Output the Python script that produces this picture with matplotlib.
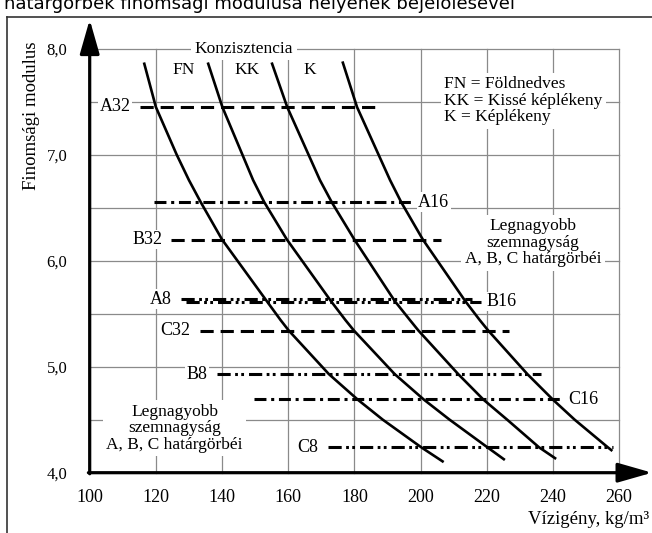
import matplotlib
matplotlib.use("Agg")
import matplotlib.pyplot as plt
from matplotlib.lines import Line2D

plt.rcParams['font.family'] = ['Liberation Serif', 'DejaVu Serif']
plt.rcParams['lines.scale_dashes'] = False

# Data
title = "határgörbék finomsági modulusa helyének bejelölésével"
x_ticks = [100, 120, 140, 160, 180, 200, 220, 240, 260]
y_ticks = [4.0, 5.0, 6.0, 7.0, 8.0]
y_tick_labels = ["4,0", "5,0", "6,0", "7,0", "8,0"]

# consistency boundary curves (Vízigény, Finomsági modulus)
curve1_x = [116.4, 120.0, 126.3, 130.0, 133.6, 140.0, 153.5, 157.7, 160.2, 172.3, 181.0, 188.6, 200.2, 207.0]
curve1_y = [7.87, 7.45, 7.00, 6.76, 6.55, 6.20, 5.62, 5.44, 5.34, 4.93, 4.69, 4.50, 4.24, 4.10]
curve2_x = [135.7, 140.1, 149.4, 152.8, 159.6, 172.9, 177.3, 179.9, 192.2, 201.0, 208.8, 220.2, 225.5]
curve2_y = [7.87, 7.45, 6.76, 6.55, 6.20, 5.62, 5.44, 5.34, 4.93, 4.69, 4.50, 4.24, 4.12]
curve3_x = [155.0, 159.7, 169.6, 173.2, 180.0, 192.2, 196.8, 199.4, 211.4, 219.0, 226.2, 235.8, 241.0]
curve3_y = [7.87, 7.45, 6.76, 6.55, 6.20, 5.62, 5.44, 5.34, 4.93, 4.69, 4.50, 4.24, 4.13]
curve4_x = [176.4, 180.8, 190.8, 194.2, 200.7, 213.5, 217.9, 220.5, 232.3, 240.0, 246.6, 256.6, 258.0]
curve4_y = [7.88, 7.45, 6.76, 6.55, 6.20, 5.62, 5.44, 5.34, 4.93, 4.69, 4.50, 4.24, 4.205]
curves = [(curve1_x, curve1_y), (curve2_x, curve2_y), (curve3_x, curve3_y), (curve4_x, curve4_y)]

# maximum grain size limit lines
limit_names = ["A32", "A16", "B32", "A8", "B16", "C32", "B8", "C16", "C8"]
limit_y = [7.45, 6.55, 6.20, 5.635, 5.615, 5.34, 4.93, 4.695, 4.24]
limit_x0 = [115.2, 119.4, 124.7, 127.7, 129.0, 133.3, 138.5, 149.6, 172.0]
limit_x1 = [187.6, 197.5, 206.2, 215.5, 218.3, 226.8, 236.3, 242.9, 258.2]
limit_kind = ["dash", "dashdot", "dash", "dashdotdot", "dashdotdot", "dash", "dashdotdot", "dashdot", "dashdotdot"]
label_side = ["left", "right", "left", "left", "right", "left", "left", "right", "left"]

consistency_labels = ["FN", "KK", "K"]
consistency_label_x = [128.5, 147.6, 166.5]

dash_patterns = {
    "dash": (9.5, 5.0),
    "dashdot": (8.6, 3.4, 2.2, 3.4),
    "dashdotdot": (9.5, 3.2, 2.0, 2.4, 2.0, 3.6),
}

fig = plt.figure(figsize=(6.52, 5.33), dpi=100)
ax = fig.add_axes([89.7 / 652, (533 - 472.7) / 533, (619 - 89.7) / 652, (472.7 - 48.7) / 533])
ax.set_xlim(100, 260)
ax.set_ylim(4.0, 8.0)
for s in ax.spines.values():
    s.set_visible(False)

# grid
grid_col = "#8a8a8a"
for gx in x_ticks[1:]:
    ax.plot([gx, gx], [4.0, 8.0], color=grid_col, lw=0.9, zorder=1, clip_on=False)
for gy in [4.5, 5.0, 5.5, 6.0, 6.5, 7.0, 7.5, 8.0]:
    ax.plot([100, 260], [gy, gy], color=grid_col, lw=0.9, zorder=1, clip_on=False)

# axes with arrows
arrow_style = "-|>,head_length=1.05,head_width=0.3"
ax.annotate("", xy=(100, 8.275), xytext=(100, 3.99),
            arrowprops=dict(arrowstyle=arrow_style, lw=2.3, color="k", mutation_scale=20, shrinkA=0, shrinkB=0),
            annotation_clip=False, zorder=6)
ax.annotate("", xy=(270.0, 4.0), xytext=(99.6, 4.0),
            arrowprops=dict(arrowstyle=arrow_style, lw=2.3, color="k", mutation_scale=20, shrinkA=0, shrinkB=0),
            annotation_clip=False, zorder=6)

# curves
for cx, cy in curves:
    ax.plot(cx, cy, color="k", lw=1.9, zorder=5, solid_capstyle="butt", solid_joinstyle="round")

# limit lines and labels
box = dict(facecolor="white", edgecolor="none", pad=1.0)
for name, y, x0, x1, kind, side in zip(limit_names, limit_y, limit_x0, limit_x1, limit_kind, label_side):
    ax.plot([x0, x1], [y, y], color="k", lw=2.2, dashes=dash_patterns[kind],
            zorder=4, dash_capstyle="butt", clip_on=False)
    if side == "left":
        ax.text(x0 - 2.8, y, name, ha="right", va="center", fontsize=13, zorder=3, bbox=box)
    else:
        ax.text(x1 + 1.8, y, name, ha="left", va="center", fontsize=13, zorder=3, bbox=box)

# texts
ax.text(146.6, 8.0, "Konzisztencia", ha="center", va="center", fontsize=12.5, zorder=3,
        bbox=dict(facecolor="white", edgecolor="none", pad=2.5))
for lab, lx in zip(consistency_labels, consistency_label_x):
    ax.text(lx, 7.80, lab, ha="center", va="center", fontsize=12.5, zorder=3)

ax.text(207.2, 7.51, "FN = Földnedves\nKK = Kissé képlékeny\nK = Képlékeny",
        ha="left", va="center", fontsize=12.5, linespacing=1.05, zorder=3,
        bbox=dict(facecolor="white", edgecolor="none", pad=2.5))
ax.text(234.0, 6.17, "Legnagyobb\nszemnagyság\nA, B, C határgörbéi",
        ha="center", va="center", fontsize=12.5, linespacing=1.05, zorder=3,
        bbox=dict(facecolor="white", edgecolor="none", pad=2.5))
ax.text(125.7, 4.42, "Legnagyobb\nszemnagyság\nA, B, C határgörbéi",
        ha="center", va="center", fontsize=12.5, linespacing=1.05, zorder=3,
        bbox=dict(facecolor="white", edgecolor="none", pad=2.5))

# ticks
ax.set_xticks(x_ticks)
ax.set_xticklabels([str(v) for v in x_ticks], fontsize=13)
ax.set_yticks(y_ticks)
ax.set_yticklabels(y_tick_labels, fontsize=12)
ax.tick_params(axis="x", length=0, pad=12)
ax.tick_params(axis="y", length=0, pad=16)

fig.text(32 / 652, 1 - 116 / 533, "Finomsági modulus", rotation=90, ha="center", va="center", fontsize=13.5)
fig.text(649 / 652, 1 - 520 / 533, "Vízigény, kg/m³", ha="right", va="center", fontsize=13.5)

# frame and cropped title
fig.add_artist(Line2D([7 / 652, 7 / 652], [0, 1 - 17 / 533], color="#333333", lw=1.2))
fig.add_artist(Line2D([7 / 652, 1], [1 - 17 / 533, 1 - 17 / 533], color="#333333", lw=1.2))
fig.text(4 / 652, 1 - 9 / 533, title, ha="left", va="baseline", fontsize=13, family="DejaVu Sans")

fig.savefig("out.png", dpi=100)
